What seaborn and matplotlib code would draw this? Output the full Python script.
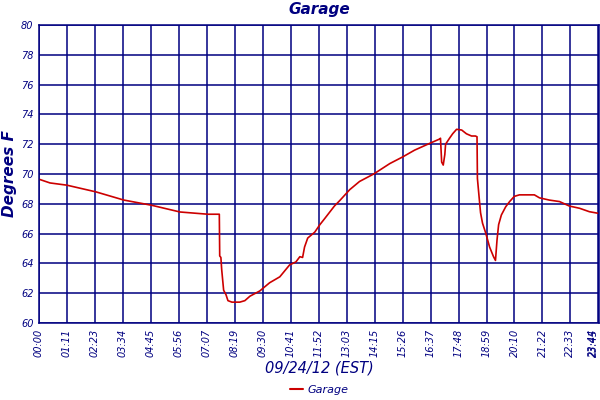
import matplotlib
matplotlib.use("Agg")
from matplotlib import pyplot as plt
import pandas as pd
import seaborn as sns

# minutes after midnight
minutes = [0, 28, 71, 145, 216, 287, 359, 430, 459, 460, 463, 465, 470, 476,
           481, 491, 511, 524, 537, 562, 587, 613, 638, 654, 664, 671, 676,
           684, 702, 715, 727, 752, 765, 791, 816, 852, 893, 926, 956, 994,
           1020, 1022, 1025, 1029, 1033, 1035, 1045, 1053, 1063, 1076, 1088,
           1101, 1111, 1115, 1116, 1121, 1124, 1129, 1137, 1147, 1157, 1162,
           1166, 1170, 1177, 1188, 1198, 1210, 1223, 1261, 1274, 1299, 1325,
           1350, 1376, 1401, 1424]
temps = [69.65, 69.4, 69.25, 68.8, 68.25, 67.9, 67.45, 67.3, 67.3, 64.5,
         64.4, 63.6, 62.2, 61.9, 61.5, 61.4, 61.4, 61.5, 61.8, 62.15, 62.7,
         63.1, 63.9, 64.1, 64.45, 64.4, 65.1, 65.7, 66.1, 66.6, 67.0, 67.85,
         68.2, 68.95, 69.5, 70.0, 70.7, 71.15, 71.6, 72.05, 72.35, 72.4, 70.8,
         70.6, 71.3, 72.0, 72.4, 72.7, 73.0, 72.95, 72.7, 72.55, 72.55,
         72.5, 69.7, 68.25, 67.4, 66.7, 66.05, 65.1, 64.45, 64.2, 65.6, 66.6,
         67.25, 67.8, 68.15, 68.5, 68.6, 68.6, 68.4, 68.25, 68.15, 67.85,
         67.7, 67.47, 67.36]

tick_labels = ["00:00", "01:11", "02:23", "03:34", "04:45", "05:56", "07:07",
               "08:19", "09:30", "10:41", "11:52", "13:03", "14:15", "15:26",
               "16:37", "17:48", "18:59", "20:10", "21:22", "22:33", "23:44",
               "23:45"]
tick_pos = [i * 71.2 for i in range(21)] + [1425]

df = pd.DataFrame({"minute": minutes, "temp": temps, "series": "Garage"})

navy = "#000080"
red = "#cc0000"

sns.set_style("white")
plt.rcParams["font.family"] = ["DejaVu Sans"]

f, ax = plt.subplots(figsize=(6, 4), dpi=100)
f.subplots_adjust(left=0.065, right=0.998, top=0.9375, bottom=0.1925)

sns.lineplot(data=df, x="minute", y="temp", hue="series",
             palette=[red], linewidth=1.2, ax=ax, legend=False)

ax.set_xlim(0, 1425)
ax.set_ylim(60, 80)
ax.set_xticks(tick_pos)
ax.set_xticklabels(tick_labels, rotation=90, fontsize=7, color=navy,
                   style="italic")
# the last two labels overlap at the right edge, keep them inside the image
for lab in ax.get_xticklabels()[-2:]:
    lab.set_horizontalalignment("right")
ax.set_yticks(range(60, 81, 2))
ax.set_yticklabels([str(v) for v in range(60, 81, 2)], fontsize=7,
                   color=navy, style="italic")
ax.tick_params(length=0, pad=4)
ax.grid(True, color=navy, linewidth=1.1)
for s in ax.spines.values():
    s.set_color(navy)
    s.set_linewidth(1.1)

ax.set_title("Garage", color=navy, style="italic", fontweight="bold",
             fontsize=11, pad=8)
ax.set_xlabel("09/24/12 (EST)", color=navy, style="italic", fontsize=10.5,
              labelpad=3)
ax.set_ylabel("Degrees F", color=navy, style="italic", fontweight="bold",
              fontsize=11, labelpad=3)

ax.plot([], [], color=red, linewidth=1.5, label="Garage")
leg = ax.legend(loc="center", bbox_to_anchor=(0.5, -0.225),
                frameon=False, fontsize=8, handlelength=1.2,
                handletextpad=0.4, borderpad=0)
for t in leg.get_texts():
    t.set_color(navy)
    t.set_style("italic")

f.savefig("out.png", dpi=100)
